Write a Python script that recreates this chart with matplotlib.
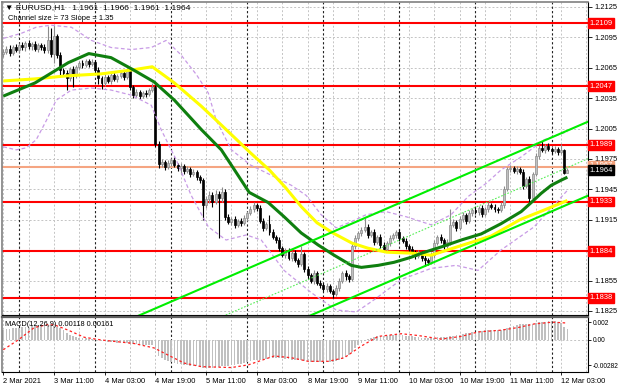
import numpy as np
import matplotlib
matplotlib.use("Agg")
import matplotlib.pyplot as plt
from matplotlib.transforms import blended_transform_factory

plt.rcParams['font.family'] = ['Liberation Sans', 'DejaVu Sans']

# ---------------- data ----------------
symbol_header = "\u25BC EURUSD,H1   1.1961  1.1966  1.1961  1.1964"
channel_text = "Channel size = 73 Slope = 1.35"
macd_text = "MACD(12,26,9) 0.00118 0.00161"

time_labels = ["2 Mar 2021", "3 Mar 11:00", "4 Mar 03:00", "4 Mar 19:00", "5 Mar 11:00",
               "8 Mar 03:00", "8 Mar 19:00", "9 Mar 11:00", "10 Mar 03:00", "10 Mar 19:00",
               "11 Mar 11:00", "12 Mar 03:00"]
time_label_bars = [0, 16, 32, 48, 64, 80, 96, 112, 128, 144, 160, 176]
day_start_bars = [5, 29, 53, 77, 101, 125, 149, 173]

first_open = 1.2079
close = [
    1.2081, 1.2084, 1.2080, 1.2085, 1.2083, 1.2087, 1.2085, 1.2089, 1.2086, 1.2088,
    1.2084, 1.2087, 1.2085, 1.2083, 1.2092, 1.2079, 1.2096, 1.2078, 1.2063, 1.2060,
    1.2055, 1.2064, 1.2058, 1.2066, 1.2070, 1.2068, 1.2072, 1.2069, 1.2071, 1.2063,
    1.2055, 1.2050, 1.2056, 1.2052, 1.2058, 1.2054, 1.2057, 1.2060, 1.2056, 1.2062,
    1.2046, 1.2038, 1.2041, 1.2037, 1.2040, 1.2039, 1.2043, 1.2046, 1.1990, 1.1970,
    1.1972, 1.1967, 1.1971, 1.1974, 1.1969, 1.1966, 1.1968, 1.1963, 1.1965, 1.1960,
    1.1962, 1.1957, 1.1954, 1.1930, 1.1935, 1.1939, 1.1933, 1.1940, 1.1936, 1.1942,
    1.1918, 1.1913, 1.1916, 1.1910, 1.1914, 1.1912, 1.1917, 1.1922, 1.1926, 1.1930,
    1.1927, 1.1914, 1.1907, 1.1911, 1.1903, 1.1898, 1.1895, 1.1887, 1.1880, 1.1884,
    1.1877, 1.1882, 1.1875, 1.1871, 1.1881, 1.1866, 1.1860, 1.1855, 1.1862, 1.1853,
    1.1851, 1.1847, 1.1850, 1.1845, 1.1842, 1.1848, 1.1855, 1.1862, 1.1859, 1.1857,
    1.1889, 1.1897, 1.1902, 1.1905, 1.1908, 1.1900, 1.1903, 1.1893, 1.1898, 1.1890,
    1.1886, 1.1892, 1.1897, 1.1900, 1.1903, 1.1897, 1.1894, 1.1889, 1.1886, 1.1883,
    1.1879, 1.1882, 1.1877, 1.1875, 1.1873, 1.1880, 1.1892, 1.1898, 1.1895, 1.1889,
    1.1893, 1.1910, 1.1913, 1.1907, 1.1916, 1.1920, 1.1914, 1.1922, 1.1925, 1.1923,
    1.1927, 1.1921, 1.1926, 1.1930, 1.1928, 1.1926, 1.1925, 1.1930, 1.1945, 1.1965,
    1.1966, 1.1963, 1.1965, 1.1962, 1.1948, 1.1955, 1.1936, 1.1960, 1.1978, 1.1986,
    1.1984, 1.1988, 1.1985, 1.1983, 1.1985, 1.1982, 1.1984, 1.1961, 1.1964,
]
# wick lengths in pips above max(open, close) / below min(open, close)
wick_up = [
    3, 2, 3, 2, 3, 2, 3, 2, 3, 2, 3, 2, 2, 3, 14, 12, 12, 2, 3, 2,
    3, 2, 3, 2, 2, 3, 2, 2, 3, 2, 3, 2, 3, 2, 2, 3, 2, 2, 3, 3,
    3, 2, 3, 2, 2, 3, 2, 4, 2, 3, 3, 2, 3, 2, 3, 2, 3, 2, 3, 2,
    3, 2, 2, 2, 3, 4, 3, 4, 3, 5, 3, 3, 2, 3, 2, 3, 3, 2, 3, 3,
    2, 3, 3, 2, 9, 3, 2, 3, 2, 3, 3, 2, 3, 2, 8, 2, 3, 2, 3, 2,
    3, 2, 3, 2, 2, 3, 3, 2, 3, 2, 3, 3, 2, 3, 9, 3, 2, 3, 2, 3,
    3, 2, 3, 2, 2, 3, 2, 3, 2, 3, 2, 3, 2, 3, 2, 3, 3, 2, 3, 2,
    3, 16, 3, 2, 3, 3, 2, 3, 2, 3, 2, 3, 2, 3, 2, 3, 2, 3, 3, 2,
    3, 2, 3, 2, 3, 2, 3, 2, 3, 3, 7, 2, 3, 2, 3, 2, 6, 1, 2,
]
wick_dn = [
    3, 2, 3, 2, 2, 3, 2, 3, 2, 3, 2, 3, 2, 3, 3, 3, 9, 3, 5, 3,
    12, 3, 12, 3, 2, 3, 2, 3, 2, 3, 6, 6, 3, 2, 3, 2, 3, 2, 3, 2,
    3, 3, 2, 3, 2, 3, 2, 2, 3, 4, 3, 3, 2, 3, 2, 3, 6, 3, 2, 3,
    2, 3, 3, 15, 3, 3, 5, 2, 39, 3, 3, 2, 3, 3, 2, 3, 2, 3, 2, 3,
    3, 2, 3, 2, 3, 2, 3, 3, 2, 3, 2, 3, 2, 3, 2, 3, 3, 2, 3, 2,
    3, 2, 3, 2, 4, 2, 3, 2, 3, 3, 2, 3, 2, 3, 2, 3, 2, 3, 2, 3,
    3, 2, 3, 2, 3, 3, 2, 3, 3, 2, 3, 2, 3, 6, 3, 2, 3, 2, 3, 3,
    2, 3, 2, 3, 2, 3, 3, 2, 3, 2, 3, 3, 2, 3, 2, 3, 3, 2, 3, 2,
    3, 2, 3, 2, 3, 2, 4, 3, 2, 3, 2, 3, 2, 3, 2, 3, 2, 1, 0,
]

# moving averages (bar index, price)
green_ma_bar = [0, 10, 20.5, 27, 34, 41, 47.6, 54, 62.5, 68.8, 73, 77.6, 83.6, 88.6, 94, 99.4,
                104.4, 109.8, 113, 118.3, 123.3, 128.7, 132, 139, 144.5, 150.8, 157, 163.4,
                166.6, 169.7, 172.9, 176, 178]
green_ma_val = [1.2037, 1.2050, 1.2070, 1.2079, 1.2075, 1.2063, 1.2051, 1.2033, 1.2004, 1.1984,
                1.1964, 1.1942, 1.1932, 1.1918, 1.1902, 1.1890, 1.1880, 1.1870, 1.1868, 1.1870,
                1.1873, 1.1878, 1.1882, 1.1889, 1.1895, 1.1901, 1.1911, 1.1923, 1.1932, 1.1941,
                1.1949, 1.1954, 1.1957]
yellow_ma_bar = [0, 10, 20, 31, 41, 47, 54, 62.5, 66.6, 73, 78, 84, 89, 94, 99, 104, 110, 115,
                 121, 129, 135, 144, 154, 163, 171, 178]
yellow_ma_val = [1.2052, 1.2054, 1.2057, 1.2059, 1.2063, 1.2066, 1.2050, 1.2027, 1.2015, 1.1996,
                 1.1981, 1.1964, 1.1947, 1.1928, 1.1912, 1.1902, 1.1892, 1.1887, 1.1883, 1.1882,
                 1.1880, 1.1889, 1.1899, 1.1915, 1.1925, 1.1934]

# envelope bands (bar index, price)
band_up_bar = [0, 5.7, 10.4, 15.1, 21.5, 27.8, 34, 40.4, 46.7, 51.4, 56, 61, 64.7, 67.2, 72, 78,
               84.5, 90.9, 95.6, 100.3, 105, 109.8, 114.5, 120.8, 127.1, 135, 141.3, 146.7,
               152.4, 157, 163.4, 170.7, 178]
band_up_val = [1.2094, 1.2099, 1.2105, 1.2107, 1.2105, 1.2092, 1.2085, 1.2083, 1.2085, 1.2092,
               1.2078, 1.2058, 1.2040, 1.2013, 1.1984, 1.1969, 1.1959, 1.1949, 1.1939, 1.1920,
               1.1907, 1.1913, 1.1920, 1.1923, 1.1918, 1.1910, 1.1920, 1.1938, 1.1951, 1.1964,
               1.1977, 1.1994, 1.2002]
band_dn_bar = [0, 4.1, 7.3, 10.4, 13.6, 16.7, 21.5, 27.8, 34, 40.4, 46.7, 49.8, 54.6, 59.3, 64.7,
               70.3, 76.7, 81.4, 88.6, 97.2, 105, 111.4, 117, 125.6, 135, 142.9, 149.8, 157,
               167.5, 178]
band_dn_val = [1.1987, 1.1984, 1.1986, 1.1994, 1.2013, 1.2033, 1.2043, 1.2045, 1.2043, 1.2038,
               1.2028, 1.2004, 1.1974, 1.1939, 1.1908, 1.1895, 1.1900, 1.1895, 1.1865, 1.1843,
               1.1826, 1.1824, 1.1836, 1.1856, 1.1867, 1.1870, 1.1865, 1.1885, 1.1908, 1.1944]

# regression channel
channel_anchor_bar = 178
channel_anchor_upper = 1.2003
channel_slope = 0.000135      # 1.35 pips per bar
channel_size = 0.0073         # 73 pips

red_levels = [1.2109, 1.2047, 1.1989, 1.1933, 1.1884, 1.1838]
orange_level = 1.1967
last_price = 1.1964

price_ticks = [1.2125, 1.2095, 1.2065, 1.2035, 1.2005, 1.1975, 1.1945, 1.1915, 1.1885, 1.1855, 1.1825]
price_tick_labels = ["1.2125", "1.2095", "1.2065", "1.2035", "1.2005", "1.1975", "1.1945",
                     "1.1915", "", "1.1855", "1.1825"]

# MACD histogram (x 1e-4)
macd_hist = [
    11, 12, 12, 13, 13, 14, 15, 15, 16, 16, 17, 17, 17, 17, 16, 16, 16, 15, 13, 11,
    8, 6, 4, 3, 2, 2, 2, 1, 1, 1, 0, -1, -1, -2, -2, -2, -3, -3, -3, -3,
    -4, -4, -5, -5, -6, -6, -6, -6, -11, -18, -20, -23, -24, -25, -26, -27, -27, -28, -28, -29,
    -29, -29, -29, -31, -31, -31, -31, -30, -30, -29, -29, -29, -28, -28, -27, -27, -26, -25, -24, -23,
    -22, -22, -21, -21, -20, -20, -20, -20, -20, -21, -21, -22, -22, -23, -23, -24, -24, -25, -25, -25,
    -25, -25, -25, -25, -25, -24, -23, -21, -19, -17, -13, -9, -6, -3, -1, 1, 2, 3, 4, 4,
    5, 5, 6, 6, 6, 6, 6, 5, 5, 4, 3, 3, 2, 2, 2, 2, 2, 3, 3, 3,
    3, 4, 5, 6, 6, 7, 8, 8, 9, 9, 10, 10, 11, 11, 11, 11, 11, 11, 12, 14,
    15, 16, 17, 18, 18, 18, 18, 18, 19, 20, 20, 20, 21, 21, 21, 20, 19, 15, 12,
]
signal_bar = [0, 4.7, 9.8, 13.6, 16.1, 20.5, 25.6, 30.9, 41.3, 47.6, 52, 57.1, 62.5, 72, 77.3,
              85.5, 90.9, 96.2, 102.5, 107.6, 112.9, 118.3, 125.6, 130.9, 138.2, 144.5, 149.8,
              157.1, 162.5, 167.5, 173.3, 178]
signal_val = [-11, 0, 14, 17, 17, 11, 3, 0, -4, -9, -17, -26, -30, -31, -28, -18, -20, -24, -24,
              -20, -7, 4, 7, 5, 1, 4, 9, 11, 14, 18, 20, 19]
macd_ticks = [0.002, 0.0, -0.00282]
macd_tick_labels = ["0.002", "0.00", "-0.00282"]

# ---------------- figure ----------------
W, H = 620, 388
fig = plt.figure(figsize=(W / 100, H / 100), dpi=100)
fig.patch.set_facecolor("white")

ax = fig.add_axes([2 / W, 1 - 315 / H, 586 / W, 313 / H])
axm = fig.add_axes([2 / W, 1 - 372 / H, 586 / W, 55 / H], sharex=ax)

n = len(close)
x = np.arange(n)
c = np.array(close)
o = np.concatenate([[first_open], c[:-1]])
hi = np.maximum(o, c) + np.array(wick_up) * 1e-4
lo = np.minimum(o, c) - np.array(wick_dn) * 1e-4

XMIN, XMAX = -0.4, 184.5
ax.set_xlim(XMIN, XMAX)
ax.set_ylim(1.18210, 1.21299)
axm.set_ylim(-0.00360, 0.00258)

grid_kw = dict(color="#c4c4c4", lw=0.7, ls=(0, (2, 2)), zorder=0.5)
for a in (ax, axm):
    for b in range(0, n + 8, 8):
        a.axvline(b, **grid_kw)
    for b in day_start_bars:
        a.axvline(b, color="#202020", lw=0.8, ls=(0, (2, 2)), zorder=0.6)
for p in price_ticks:
    ax.axhline(p, **grid_kw)
axm.axhline(0.0, **grid_kw)

# level lines
for lv in red_levels:
    ax.axhline(lv, color="#ff0000", lw=1.5, zorder=1)
ax.axhline(orange_level, color="#f5a582", lw=1.5, zorder=1)

# candles
up = c >= o
wick_col = np.where(up, "#8c8c8c", "#000000")
ax.vlines(x, lo, hi, colors=wick_col, lw=0.8, zorder=2)
body_h = np.abs(c - o)
body_h = np.where(body_h < 0.00005, 0.00005, body_h)
ax.bar(x[up], body_h[up], bottom=np.minimum(o, c)[up], width=0.62,
       color="#c0c0c0", edgecolor="#8c8c8c", lw=0.5, zorder=2.2)
ax.bar(x[~up], body_h[~up], bottom=np.minimum(o, c)[~up], width=0.62,
       color="#000000", edgecolor="#000000", lw=0.5, zorder=2.2)

# bands and MAs
band_kw = dict(color="#c89be6", lw=0.9, ls=(0, (3, 2)), zorder=3)
ax.plot(band_up_bar, band_up_val, **band_kw)
ax.plot(band_dn_bar, band_dn_val, **band_kw)
ax.plot(yellow_ma_bar, yellow_ma_val, color="#ffff00", lw=2.2, zorder=3.5, solid_capstyle="butt")
ax.plot(green_ma_bar, green_ma_val, color="#0f7f0f", lw=2.2, zorder=3.6, solid_capstyle="butt")

# channel
cx = np.array([XMIN, XMAX])
upper = channel_anchor_upper + (cx - channel_anchor_bar) * channel_slope
ax.plot(cx, upper, color="#00ee00", lw=1.5, zorder=4)
ax.plot(cx, upper - channel_size, color="#00ee00", lw=1.5, zorder=4)
ax.plot(cx, upper - channel_size / 2, color="#55ee55", lw=0.8, ls=(0, (1.5, 1.5)), zorder=4)

# price axis
ax.yaxis.tick_right()
ax.set_yticks(price_ticks)
ax.set_yticklabels(price_tick_labels)
ax.tick_params(axis="y", length=3, width=0.6, pad=1.5, labelsize=5.4, colors="black")
ax.tick_params(axis="x", bottom=False, labelbottom=False)

trans = blended_transform_factory(ax.transAxes, ax.transData)
for lv in red_levels:
    ax.text(1.003, lv, f"{lv:.4f}", transform=trans, fontsize=5.4, color="white", va="center",
            ha="left", clip_on=False, zorder=10,
            bbox=dict(boxstyle="square,pad=0.18", fc="#ff0000", ec="#ff0000"))
ax.text(1.003, orange_level + 0.00012, f"{orange_level:.4f}", transform=trans, fontsize=5.4,
        color="white", va="center", ha="left", clip_on=False, zorder=10,
        bbox=dict(boxstyle="square,pad=0.18", fc="#f4a27c", ec="#f4a27c"))
ax.text(1.003, last_price, f"{last_price:.4f}", transform=trans, fontsize=5.4, color="white",
        va="center", ha="left", clip_on=False, zorder=11,
        bbox=dict(boxstyle="square,pad=0.18", fc="#000000", ec="#000000"))

# MACD
axm.bar(x, np.array(macd_hist) * 1e-4, width=0.55, color="#c0c0c0", zorder=2)
axm.plot(signal_bar, np.array(signal_val) * 1e-4, color="#ff2020", lw=0.9, ls=(0, (2, 2)), zorder=3)
axm.yaxis.tick_right()
axm.set_yticks(macd_ticks)
axm.set_yticklabels(macd_tick_labels)
axm.tick_params(axis="y", length=2.5, width=0.6, pad=0.8, labelsize=4.8)
axm.set_xticks(time_label_bars)
axm.set_xticklabels(time_labels)
axm.tick_params(axis="x", length=2.5, width=0.6, pad=2, labelsize=5.4)
for lab in axm.get_xticklabels():
    lab.set_ha("left")

for a in (ax, axm):
    a.set_facecolor("white")
    for s in ("left", "top"):
        a.spines[s].set_color("#808080")
        a.spines[s].set_linewidth(1.2)
    for s in ("right", "bottom"):
        a.spines[s].set_color("#000000")
        a.spines[s].set_linewidth(0.8)
axm.spines["top"].set_color("#606060")
axm.spines["top"].set_linewidth(1.6)

# header texts
fig.text(5 / W, 1 - 8 / H, symbol_header, fontsize=6.1, va="center", ha="left")
fig.text(8 / W, 1 - 19 / H, channel_text, fontsize=5.4, va="center", ha="left")
fig.text(5 / W, 1 - 325 / H, macd_text, fontsize=5.3, va="center", ha="left")

fig.savefig("out.png", dpi=100, facecolor="white")
